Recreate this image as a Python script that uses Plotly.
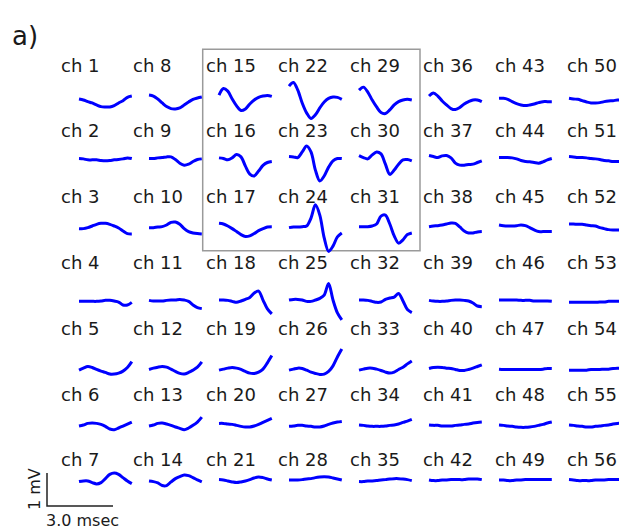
import plotly.graph_objects as go

# ---------------- data (time in ms, amplitude in mV) ----------------
TIME_MS = [0.0, 0.2, 0.4, 0.6, 0.8, 1.0, 1.2, 1.4, 1.6, 1.8, 2.0, 2.2, 2.4]

CH1 = [0.03, 0.00, -0.05, -0.09, -0.15, -0.20, -0.21, -0.21, -0.17, -0.09, -0.02, 0.08, 0.12]
CH2 = [0.22, 0.21, 0.18, 0.18, 0.18, 0.16, 0.15, 0.16, 0.18, 0.19, 0.21, 0.24, 0.22]
CH3 = [0.09, 0.09, 0.12, 0.17, 0.22, 0.25, 0.25, 0.22, 0.17, 0.11, 0.02, -0.06, -0.07]
CH4 = [-0.12, -0.12, -0.12, -0.12, -0.12, -0.11, -0.09, -0.09, -0.11, -0.14, -0.23, -0.23, -0.15]
CH5 = [-0.21, -0.15, -0.10, -0.13, -0.19, -0.24, -0.28, -0.33, -0.33, -0.30, -0.24, -0.13, 0.05]
CH6 = [0.09, 0.12, 0.17, 0.18, 0.17, 0.14, 0.08, 0.00, -0.02, 0.03, 0.09, 0.15, 0.21]
CH7 = [0.40, 0.42, 0.42, 0.37, 0.33, 0.37, 0.49, 0.62, 0.66, 0.62, 0.52, 0.42, 0.34]

CH8 = [0.15, 0.12, 0.03, -0.09, -0.20, -0.26, -0.27, -0.24, -0.15, -0.06, 0.02, 0.06, 0.09]
CH9 = [0.22, 0.22, 0.24, 0.25, 0.27, 0.27, 0.19, 0.08, 0.02, 0.05, 0.13, 0.19, 0.21]
CH10 = [0.12, 0.12, 0.14, 0.15, 0.20, 0.28, 0.29, 0.22, 0.09, 0.00, -0.04, -0.06, -0.07]
CH11 = [-0.09, -0.11, -0.11, -0.11, -0.09, -0.08, -0.08, -0.06, -0.08, -0.12, -0.23, -0.31, -0.34]
CH12 = [-0.19, -0.15, -0.12, -0.10, -0.12, -0.18, -0.25, -0.31, -0.33, -0.28, -0.21, -0.12, 0.04]
CH13 = [0.09, 0.12, 0.17, 0.18, 0.15, 0.11, 0.06, 0.02, -0.02, 0.03, 0.11, 0.21, 0.36]
CH14 = [0.42, 0.40, 0.36, 0.28, 0.28, 0.39, 0.49, 0.55, 0.60, 0.58, 0.52, 0.45, 0.39]

CH15 = [0.15, 0.35, 0.27, 0.03, -0.18, -0.32, -0.27, -0.12, 0.00, 0.08, 0.12, 0.14, 0.11]
CH16 = [0.24, 0.22, 0.18, 0.24, 0.34, 0.27, -0.01, -0.25, -0.31, -0.16, 0.01, 0.10, 0.13]
CH17 = [0.25, 0.23, 0.17, 0.09, 0.00, -0.09, -0.15, -0.13, -0.06, 0.03, 0.09, 0.14, 0.15]
CH18 = [-0.08, -0.08, -0.09, -0.12, -0.15, -0.11, -0.06, 0.00, 0.13, 0.19, -0.08, -0.35, -0.50]
CH19 = [-0.21, -0.18, -0.15, -0.13, -0.15, -0.19, -0.25, -0.30, -0.31, -0.27, -0.18, 0.01, 0.23]
CH20 = [0.17, 0.17, 0.15, 0.14, 0.11, 0.08, 0.06, 0.06, 0.09, 0.14, 0.20, 0.26, 0.32]
CH21 = [0.46, 0.45, 0.42, 0.39, 0.37, 0.39, 0.42, 0.46, 0.51, 0.54, 0.52, 0.48, 0.45]

CH22 = [0.42, 0.53, 0.30, -0.09, -0.39, -0.56, -0.45, -0.24, -0.06, 0.05, 0.09, 0.08, 0.02]
CH23 = [0.28, 0.27, 0.25, 0.42, 0.60, 0.42, -0.13, -0.46, -0.31, -0.04, 0.15, 0.22, 0.22]
CH24 = [0.12, 0.14, 0.14, 0.15, 0.17, 0.41, 0.81, 0.50, -0.19, -0.60, -0.44, -0.16, -0.04]
CH25 = [-0.08, -0.06, -0.06, -0.08, -0.12, -0.12, -0.08, -0.03, 0.07, 0.42, -0.08, -0.47, -0.68]
CH26 = [-0.21, -0.18, -0.15, -0.16, -0.21, -0.27, -0.31, -0.34, -0.33, -0.25, -0.08, 0.19, 0.43]
CH27 = [0.08, 0.09, 0.11, 0.11, 0.09, 0.08, 0.06, 0.06, 0.09, 0.14, 0.18, 0.21, 0.23]
CH28 = [0.45, 0.45, 0.45, 0.46, 0.48, 0.49, 0.52, 0.54, 0.55, 0.54, 0.51, 0.48, 0.45]

CH29 = [0.30, 0.39, 0.24, 0.00, -0.21, -0.38, -0.41, -0.30, -0.15, -0.05, 0.00, 0.02, 0.00]
CH30 = [0.31, 0.25, 0.21, 0.33, 0.42, 0.36, 0.05, -0.26, -0.13, 0.05, 0.18, 0.19, 0.15]
CH31 = [0.15, 0.15, 0.15, 0.17, 0.23, 0.47, 0.50, 0.23, -0.13, -0.35, -0.25, -0.09, -0.04]
CH32 = [-0.08, -0.08, -0.09, -0.12, -0.15, -0.14, -0.06, -0.02, 0.01, 0.12, -0.11, -0.37, -0.46]
CH33 = [-0.21, -0.18, -0.15, -0.15, -0.18, -0.22, -0.27, -0.30, -0.27, -0.19, -0.12, -0.02, 0.07]
CH34 = [0.12, 0.11, 0.09, 0.08, 0.08, 0.08, 0.09, 0.11, 0.12, 0.15, 0.20, 0.24, 0.29]
CH35 = [0.40, 0.40, 0.42, 0.42, 0.43, 0.45, 0.46, 0.48, 0.49, 0.49, 0.48, 0.46, 0.43]

CH36 = [0.12, 0.21, 0.12, -0.03, -0.15, -0.26, -0.29, -0.23, -0.12, -0.05, 0.00, 0.00, -0.05]
CH37 = [0.31, 0.28, 0.25, 0.30, 0.31, 0.24, 0.08, 0.02, 0.02, 0.04, 0.05, 0.10, 0.15]
CH38 = [0.15, 0.17, 0.18, 0.20, 0.23, 0.26, 0.25, 0.14, 0.02, -0.04, -0.04, -0.01, 0.00]
CH39 = [-0.09, -0.11, -0.12, -0.12, -0.11, -0.09, -0.08, -0.08, -0.09, -0.11, -0.17, -0.26, -0.28]
CH40 = [-0.16, -0.13, -0.12, -0.13, -0.15, -0.16, -0.19, -0.22, -0.22, -0.19, -0.15, -0.10, -0.05]
CH41 = [0.12, 0.11, 0.11, 0.09, 0.09, 0.09, 0.11, 0.12, 0.14, 0.15, 0.18, 0.20, 0.21]
CH42 = [0.45, 0.43, 0.43, 0.45, 0.45, 0.46, 0.46, 0.46, 0.46, 0.48, 0.48, 0.48, 0.46]

CH43 = [0.05, 0.05, 0.02, -0.05, -0.11, -0.15, -0.17, -0.15, -0.12, -0.08, -0.05, -0.05, -0.05]
CH44 = [0.25, 0.25, 0.25, 0.24, 0.21, 0.16, 0.13, 0.12, 0.10, 0.08, 0.12, 0.18, 0.22]
CH45 = [0.20, 0.18, 0.17, 0.17, 0.18, 0.20, 0.18, 0.12, 0.05, 0.00, 0.00, 0.00, 0.00]
CH46 = [-0.08, -0.08, -0.08, -0.08, -0.08, -0.09, -0.09, -0.09, -0.11, -0.11, -0.11, -0.11, -0.12]
CH47 = [-0.18, -0.19, -0.19, -0.19, -0.19, -0.19, -0.19, -0.19, -0.19, -0.19, -0.18, -0.16, -0.16]
CH48 = [0.12, 0.11, 0.09, 0.08, 0.06, 0.05, 0.05, 0.06, 0.08, 0.11, 0.14, 0.18, 0.21]
CH49 = [0.45, 0.45, 0.43, 0.43, 0.45, 0.45, 0.46, 0.46, 0.46, 0.46, 0.46, 0.46, 0.46]

CH50 = [0.05, 0.03, 0.02, -0.02, -0.06, -0.09, -0.09, -0.08, -0.05, -0.03, -0.02, 0.00, 0.00]
CH51 = [0.28, 0.27, 0.25, 0.25, 0.24, 0.22, 0.21, 0.19, 0.16, 0.15, 0.13, 0.13, 0.13]
CH52 = [0.23, 0.23, 0.22, 0.22, 0.20, 0.18, 0.17, 0.12, 0.09, 0.06, 0.05, 0.05, 0.05]
CH53 = [-0.15, -0.15, -0.15, -0.15, -0.15, -0.15, -0.15, -0.14, -0.14, -0.12, -0.12, -0.12, -0.12]
CH54 = [-0.21, -0.21, -0.21, -0.21, -0.21, -0.19, -0.19, -0.19, -0.18, -0.18, -0.16, -0.15, -0.15]
CH55 = [0.12, 0.11, 0.09, 0.08, 0.06, 0.06, 0.08, 0.09, 0.11, 0.12, 0.15, 0.17, 0.18]
CH56 = [0.46, 0.45, 0.43, 0.43, 0.43, 0.43, 0.45, 0.45, 0.45, 0.46, 0.46, 0.46, 0.46]

CHANNEL_NUMBERS = list(range(1, 57))
WAVES = [CH1, CH2, CH3, CH4, CH5, CH6, CH7, CH8, CH9, CH10, CH11, CH12, CH13, CH14,
         CH15, CH16, CH17, CH18, CH19, CH20, CH21, CH22, CH23, CH24, CH25, CH26, CH27, CH28,
         CH29, CH30, CH31, CH32, CH33, CH34, CH35, CH36, CH37, CH38, CH39, CH40, CH41, CH42,
         CH43, CH44, CH45, CH46, CH47, CH48, CH49, CH50, CH51, CH52, CH53, CH54, CH55, CH56]

SCALE_MS = 3.0
SCALE_MV = 1.0
SCALE_TIME_LABEL = "3.0 msec"
SCALE_VOLT_LABEL = "1 mV"
PANEL_LABEL = "a)"

# ---------------- layout constants ----------------
W, H = 619, 529
N_ROWS = 7
PX_PER_MS = 22.0
PX_PER_MV = 33.0
X0_PX = 79.0     # pixel of t = 0 in the first column
Y0_PX = 100.0    # pixel of 0 mV in the first row
COL_STEP = 70.0 / PX_PER_MS
LABEL_COL_STEP = 72.3 / PX_PER_MS
ROW_STEP = 65.8 / PX_PER_MV


def px2x(px):
    return (px - X0_PX) / PX_PER_MS


def px2y(py):
    return (Y0_PX - py) / PX_PER_MV


FONT = "DejaVu Sans"
TEXT_COLOR = "#1a1a1a"
fig = go.Figure()

for ch, wave in zip(CHANNEL_NUMBERS, WAVES):
    c, r = (ch - 1) // N_ROWS, (ch - 1) % N_ROWS
    fig.add_trace(go.Scatter(
        x=[c * COL_STEP + t for t in TIME_MS],
        y=[v - r * ROW_STEP for v in wave],
        mode="lines",
        line=dict(color="#0000ff", width=3, shape="spline", smoothing=0.9),
        hoverinfo="skip", showlegend=False,
    ))
    fig.add_annotation(
        x=px2x(59) + c * LABEL_COL_STEP, y=px2y(65) - r * ROW_STEP,
        text=f"ch {ch}", xanchor="left", yanchor="middle", showarrow=False,
        font=dict(family=FONT, size=18, color=TEXT_COLOR),
    )

# scale bar
cx, cy = px2x(47), px2y(506)
fig.add_trace(go.Scatter(
    x=[cx, cx, cx + SCALE_MS], y=[cy + SCALE_MV, cy, cy],
    mode="lines", line=dict(color="#222222", width=1.5),
    hoverinfo="skip", showlegend=False,
))
fig.add_annotation(x=cx - 3 / PX_PER_MS, y=cy - 14 / PX_PER_MV, text=SCALE_TIME_LABEL,
                   xanchor="left", yanchor="middle", showarrow=False,
                   font=dict(family=FONT, size=16, color=TEXT_COLOR))
fig.add_annotation(x=cx - 13 / PX_PER_MS, y=cy + 17 / PX_PER_MV, text=SCALE_VOLT_LABEL,
                   textangle=-90, xanchor="center", yanchor="middle", showarrow=False,
                   font=dict(family=FONT, size=16, color=TEXT_COLOR))

# panel label
fig.add_annotation(x=px2x(10), y=px2y(36), text=PANEL_LABEL, xanchor="left", yanchor="middle",
                   showarrow=False, font=dict(family=FONT, size=26, color=TEXT_COLOR))

# highlight rectangle
fig.add_shape(type="rect", xref="x", yref="y",
              x0=px2x(202.7), x1=px2x(420), y0=px2y(250.7), y1=px2y(49.3),
              line=dict(color="#9a9a9a", width=1.5), fillcolor="rgba(0,0,0,0)", layer="below")

fig.update_layout(
    width=W, height=H, margin=dict(l=0, r=0, t=0, b=0),
    paper_bgcolor="white", plot_bgcolor="white",
    xaxis=dict(range=[px2x(0), px2x(W)], visible=False, fixedrange=True),
    yaxis=dict(range=[px2y(H), px2y(0)], visible=False, fixedrange=True),
)

fig.write_html("out.html")
